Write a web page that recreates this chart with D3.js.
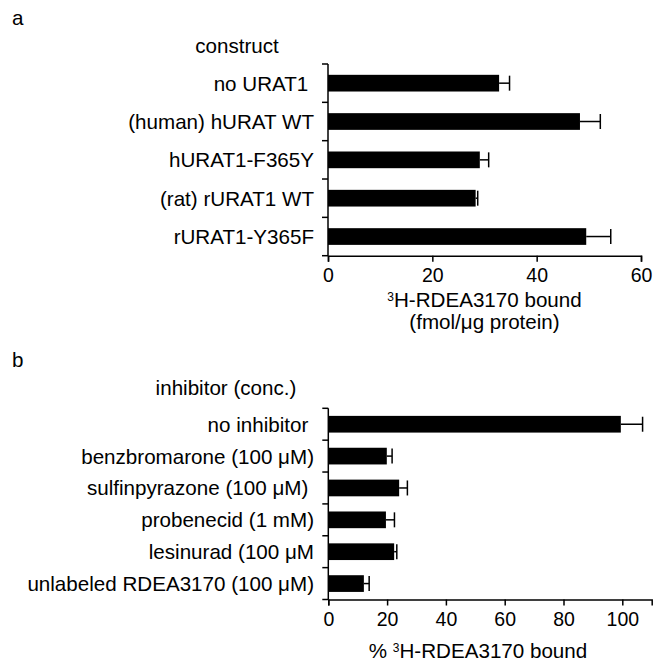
<!DOCTYPE html>
<html>
<head>
<meta charset="utf-8">
<script src="https://cdn.jsdelivr.net/npm/d3@7"></script>
<style>
  body { margin: 0; background: #fff; }
  svg text { font-family: "Liberation Sans", Arial, sans-serif; fill: #000; white-space: pre; }
</style>
</head>
<body>
<div id="canvas"></div>
<script>
"use strict"

/* drawing size */
let svgWidth = 654;
let svgHeight = 664;

/* panel a data: construct vs bound (fmol/ug protein) */
let constructs = ["no URAT1 ", "(human) hURAT WT", "hURAT1-F365Y", "(rat) rURAT1 WT", "rURAT1-Y365F"];
let constructMeans = [32.8, 48.3, 29.1, 28.3, 49.5];
let constructErrors = [2.0, 3.9, 1.7, 0.4, 4.7];
let constructTicks = [0, 20, 40, 60];

/* panel b data: inhibitor vs % bound */
let inhibitors = ["no inhibitor ", "benzbromarone (100 μM)", "sulfinpyrazone (100 μM) ", "probenecid (1 mM)", "lesinurad (100 μM", "unlabeled RDEA3170 (100 μM)"];
let inhibitorMeans = [99.5, 19.9, 24.1, 19.6, 22.4, 12.1];
let inhibitorErrors = [7.4, 1.8, 2.8, 2.9, 0.9, 1.8];
let inhibitorTicks = [0, 20, 40, 60, 80, 100];

let fontSize = 20.6;
let tickFontSize = 19.5;
let barHeight = 16.7;
let capHeight = 15;

let svg = d3.select("#canvas")
    .append("svg")
    .attr("width", svgWidth)
    .attr("height", svgHeight);

/* draws one horizontal bar panel */
function drawPanel(opt) {
    let g = svg.append("g");

    let rows = opt.labels.map(function (l, i) {
        return { label: l, mean: opt.means[i], err: opt.errors[i] };
    });

    let xScale = d3.scaleLinear()
        .domain(opt.xDomain)
        .range(opt.xRange);

    let yScale = d3.scaleBand()
        .domain(opt.labels)
        .range(opt.yRange)
        .padding(0);

    let bw = yScale.bandwidth();
    let x0 = xScale(0);

    /* bars */
    g.selectAll("rect.bar")
        .data(rows)
        .join("rect")
        .attr("class", "bar")
        .attr("x", x0)
        .attr("y", d => yScale(d.label) + (bw - barHeight) / 2)
        .attr("width", d => xScale(d.mean) - x0)
        .attr("height", barHeight)
        .attr("fill", "#000");

    /* error bars: line + cap */
    g.selectAll("line.err")
        .data(rows)
        .join("line")
        .attr("class", "err")
        .attr("x1", d => xScale(d.mean))
        .attr("x2", d => xScale(d.mean + d.err))
        .attr("y1", d => yScale(d.label) + bw / 2)
        .attr("y2", d => yScale(d.label) + bw / 2)
        .attr("stroke", "#000")
        .attr("stroke-width", 1.5);

    g.selectAll("line.cap")
        .data(rows)
        .join("line")
        .attr("class", "cap")
        .attr("x1", d => xScale(d.mean + d.err))
        .attr("x2", d => xScale(d.mean + d.err))
        .attr("y1", d => yScale(d.label) + bw / 2 - capHeight / 2)
        .attr("y2", d => yScale(d.label) + bw / 2 + capHeight / 2)
        .attr("stroke", "#000")
        .attr("stroke-width", 1.5);

    /* x axis */
    let xAxis = g.append("g")
        .attr("transform", "translate(0," + opt.yRange[1] + ")")
        .call(d3.axisBottom(xScale)
            .tickValues(opt.ticks)
            .tickSizeOuter(0)
            .tickSize(6)
            .tickPadding(6.5));
    xAxis.select(".domain").attr("stroke-width", 1.5);
    xAxis.selectAll(".tick line").attr("stroke-width", 1.5);
    xAxis.selectAll("text")
        .attr("font-size", tickFontSize)
        .attr("font-family", null);

    /* y axis: line and ticks at band edges */
    g.append("line")
        .attr("x1", x0).attr("x2", x0)
        .attr("y1", opt.yRange[0]).attr("y2", opt.yRange[1])
        .attr("stroke", "#000")
        .attr("stroke-width", 1.5);

    let edges = opt.labels.map(l => yScale(l));
    edges.push(opt.yRange[1]);
    g.selectAll("line.ytick")
        .data(edges)
        .join("line")
        .attr("class", "ytick")
        .attr("x1", x0 - 6).attr("x2", x0)
        .attr("y1", d => d).attr("y2", d => d)
        .attr("stroke", "#000")
        .attr("stroke-width", 1.5);

    /* category labels */
    g.selectAll("text.cat")
        .data(rows)
        .join("text")
        .attr("class", "cat")
        .attr("x", opt.labelRight)
        .attr("y", d => yScale(d.label) + bw / 2)
        .attr("dy", "0.36em")
        .attr("text-anchor", "end")
        .attr("font-size", fontSize)
        .text(d => d.label);

    return xScale;
}

/**** panel a ****/
svg.append("text")
    .attr("x", 12).attr("y", 25)
    .attr("font-size", fontSize)
    .text("a");

svg.append("text")
    .attr("x", 237).attr("y", 53)
    .attr("text-anchor", "middle")
    .attr("font-size", fontSize)
    .text("construct");

let xA = drawPanel({
    labels: constructs, means: constructMeans, errors: constructErrors, ticks: constructTicks,
    xDomain: [0, 60], xRange: [328, 641], yRange: [64, 255.7], labelRight: 314
});

let titleA = svg.append("text")
    .attr("x", (xA(0) + xA(60)) / 2)
    .attr("y", 307)
    .attr("text-anchor", "middle")
    .attr("font-size", fontSize);
titleA.append("tspan").attr("font-size", 12).attr("dy", -6).text("3");
titleA.append("tspan").attr("dy", 6).text("H-RDEA3170 bound");

svg.append("text")
    .attr("x", (xA(0) + xA(60)) / 2)
    .attr("y", 328.5)
    .attr("text-anchor", "middle")
    .attr("font-size", fontSize)
    .text("(fmol/μg protein)");

/**** panel b ****/
svg.append("text")
    .attr("x", 12).attr("y", 367)
    .attr("font-size", fontSize)
    .text("b");

svg.append("text")
    .attr("x", 226).attr("y", 395)
    .attr("text-anchor", "middle")
    .attr("font-size", fontSize)
    .text("inhibitor (conc.)");

let xB = drawPanel({
    labels: inhibitors, means: inhibitorMeans, errors: inhibitorErrors, ticks: inhibitorTicks,
    xDomain: [0, 110], xRange: [328.3, 651.7], yRange: [408.3, 599.5], labelRight: 314
});

let titleB = svg.append("text")
    .attr("x", 478)
    .attr("y", 658)
    .attr("text-anchor", "middle")
    .attr("font-size", fontSize);
titleB.append("tspan").text("% ");
titleB.append("tspan").attr("font-size", 12).attr("dy", -6).text("3");
titleB.append("tspan").attr("dy", 6).text("H-RDEA3170 bound");
</script>
</body>
</html>
